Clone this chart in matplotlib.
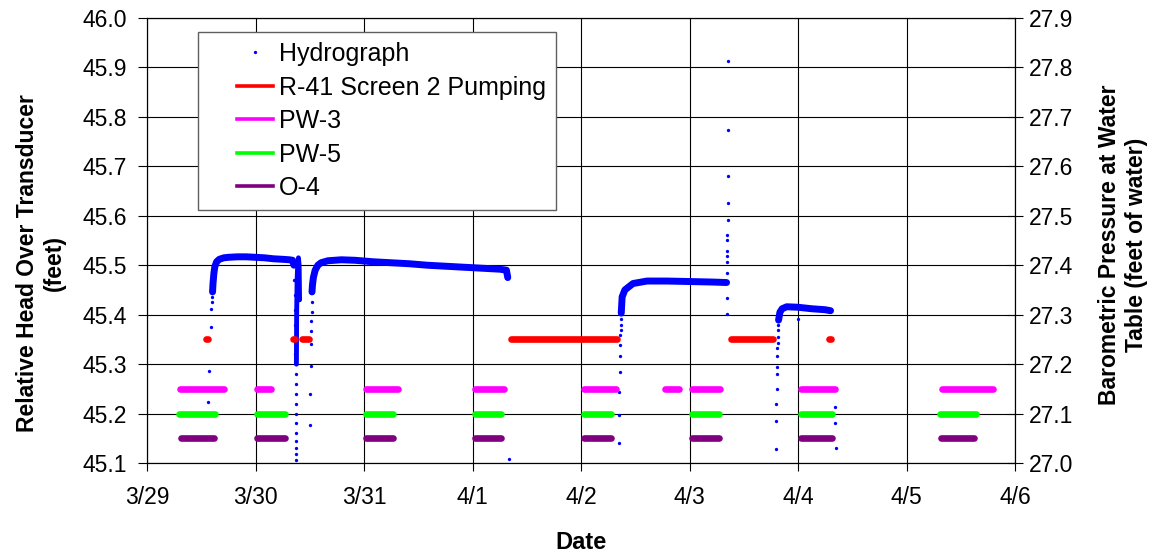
import matplotlib
matplotlib.use('Agg')
import matplotlib.pyplot as plt
from matplotlib.lines import Line2D
from matplotlib.legend_handler import HandlerLine2D

plt.rcParams['font.family'] = ['Liberation Sans', 'DejaVu Sans']

# x axis: hours since 3/29 00:00
day_labels = ['3/29', '3/30', '3/31', '4/1', '4/2', '4/3', '4/4', '4/5', '4/6']

# hydrograph readings (hours, head in feet); tails are sparse, flats are dense
rec1_t = [13.6, 13.7, 14.1, 14.2, 14.3, 14.4]
rec1_h = [45.224, 45.287, 45.376, 45.411, 45.426, 45.436]
flat1_t = [14.5, 14.6, 14.8, 15.0, 15.4, 16, 17, 18, 20, 22, 24, 26, 28, 30, 31.5, 32.2, 32.5]
flat1_h = [45.446, 45.463, 45.484, 45.497, 45.507, 45.512, 45.515, 45.516, 45.517, 45.517,
           45.516, 45.515, 45.513, 45.512, 45.511, 45.51, 45.50]

drop1_t = [32.6, 32.65, 32.7, 32.74, 32.78, 32.82, 32.85, 32.88, 32.9, 32.92, 32.94, 32.96,
           32.97, 32.98, 32.99, 33.0, 33.01, 33.02]
drop1_h = [45.47, 45.44, 45.41, 45.38, 45.35, 45.32, 45.30, 45.28, 45.26, 45.24, 45.22, 45.20,
           45.18, 45.16, 45.145, 45.13, 45.118, 45.106]
hook1_t = [33.05, 33.1, 33.2, 33.35, 33.5, 33.65, 33.75]
hook1_h = [45.30, 45.40, 45.47, 45.505, 45.515, 45.50, 45.43]

rec2_t = [36.1, 36.15, 36.2, 36.25, 36.3, 36.35, 36.4, 36.45]
rec2_h = [45.177, 45.24, 45.296, 45.341, 45.366, 45.388, 45.406, 45.426]
flat2_t = [36.5, 36.6, 36.8, 37.2, 37.8, 38.5, 40, 43, 46, 50, 54, 58, 62, 66, 70, 74, 78, 79.5, 79.8]
flat2_h = [45.446, 45.46, 45.475, 45.49, 45.50, 45.505, 45.509, 45.511, 45.510, 45.507, 45.505,
           45.503, 45.500, 45.498, 45.496, 45.494, 45.492, 45.49, 45.475]
lone2_t = [80.0]
lone2_h = [45.108]

rec3_t = [104.4, 104.45, 104.5, 104.55, 104.6, 104.65, 104.7, 104.75, 104.8, 104.85]
rec3_h = [45.140, 45.197, 45.244, 45.285, 45.316, 45.339, 45.359, 45.370, 45.380, 45.391]
flat3_t = [104.9, 105.1, 105.7, 107.5, 110.6, 115, 120, 125, 128.2]
flat3_h = [45.403, 45.436, 45.45, 45.463, 45.468, 45.468, 45.467, 45.466, 45.465]
spike3_t = [128.3, 128.32, 128.34, 128.36, 128.38, 128.4, 128.42, 128.44, 128.46, 128.48, 128.5,
            128.3, 128.3]
spike3_h = [45.485, 45.507, 45.519, 45.529, 45.551, 45.561, 45.591, 45.625, 45.680, 45.773, 45.914,
            45.434, 45.401]

rec4_t = [139.1, 139.15, 139.2, 139.25, 139.3, 139.35, 139.4, 139.45, 139.5, 139.55, 139.6, 139.65]
rec4_h = [45.128, 45.185, 45.22, 45.25, 45.279, 45.295, 45.316, 45.332, 45.343, 45.355, 45.369, 45.379]
flat4_t = [139.7, 140.0, 140.5, 141.5, 144, 147, 150, 151.2]
flat4_h = [45.389, 45.405, 45.412, 45.416, 45.415, 45.412, 45.41, 45.408]
drop4_t = [144.0, 152.2, 152.25, 152.3]
drop4_h = [45.392, 45.214, 45.18, 45.130]

# pumping periods (start, end in hours) and the level each is plotted at
r41_on = [13.1, 32.3, 34.3, 80.5, 129.2, 150.8]
r41_off = [13.5, 32.7, 35.8, 104.0, 138.5, 151.3]
r41_level = 45.35
pw3_on = [7.3, 24.3, 48.4, 72.6, 96.7, 114.6, 120.6, 144.7, 175.9]
pw3_off = [17.0, 27.4, 55.5, 79.0, 103.7, 117.7, 126.7, 152.2, 187.1]
pw3_level = 45.25
pw5_on = [7.1, 24.3, 48.4, 72.6, 96.7, 120.6, 144.7, 175.4]
pw5_off = [15.0, 30.5, 54.4, 78.3, 102.6, 126.5, 151.5, 183.4]
pw5_level = 45.20
o4_on = [7.5, 24.3, 48.4, 72.6, 96.7, 120.6, 144.7, 175.6]
o4_off = [14.8, 30.5, 54.4, 78.3, 102.6, 126.5, 151.5, 182.9]
o4_level = 45.15

BLUE = '#0000ff'
RED = '#ff0000'
MAGENTA = '#ff00ff'
GREEN = '#00ff00'
PURPLE = '#800080'
FS = 16.5

fig = plt.figure(figsize=(11.58, 5.55), dpi=100)
ax = fig.add_axes([147 / 1158, 1 - 463 / 555, 868 / 1158, 445 / 555])

def dots(t, h):
    ax.plot(t, h, ls='none', marker='o', ms=2.4, mec='none', color=BLUE, zorder=3)

def band(t, h, lw=5):
    ax.plot(t, h, color=BLUE, lw=lw, solid_capstyle='round', solid_joinstyle='round', zorder=3)

dots(rec1_t, rec1_h)
band(flat1_t, flat1_h)
dots(drop1_t, drop1_h)
band(hook1_t, hook1_h, lw=3.5)
dots(rec2_t, rec2_h)
band(flat2_t, flat2_h)
dots(lone2_t, lone2_h)
dots(rec3_t, rec3_h)
band(flat3_t, flat3_h)
dots(spike3_t, spike3_h)
dots(rec4_t, rec4_h)
band(flat4_t, flat4_h)
dots(drop4_t, drop4_h)

for on, off, level, col in [(r41_on, r41_off, r41_level, RED),
                            (pw3_on, pw3_off, pw3_level, MAGENTA),
                            (pw5_on, pw5_off, pw5_level, GREEN),
                            (o4_on, o4_off, o4_level, PURPLE)]:
    lc = ax.hlines([level] * len(on), on, off, colors=col, lw=4.8, zorder=4)
    lc.set_capstyle('round')

ax.set_xlim(0, 24 * (len(day_labels) - 1))
ax.set_xticks([24 * i for i in range(len(day_labels))])
ax.set_xticklabels(day_labels)
ax.set_ylim(45.1, 46.0)
ax.set_yticks([45.1 + 0.1 * i for i in range(10)])
ax.set_yticklabels([f'{45.1 + 0.1 * i:.1f}' for i in range(10)])
ax.grid(True, color='black', lw=0.8)
ax.set_axisbelow(True)
ax.tick_params(axis='y', direction='out', length=6.5, width=0.8, pad=8, labelsize=FS)
ax.tick_params(axis='x', direction='out', length=5.5, width=0.8, pad=11, labelsize=FS)
for s in ax.spines.values():
    s.set_linewidth(0.8)

ax2 = ax.twinx()
ax2.set_ylim(27.0, 27.9)
ax2.set_yticks([27.0 + 0.1 * i for i in range(10)])
ax2.set_yticklabels([f'{27.0 + 0.1 * i:.1f}' for i in range(10)])
ax2.tick_params(axis='y', direction='inout', length=12, width=0.8, pad=4, labelsize=FS)
for s in ax2.spines.values():
    s.set_linewidth(0.8)

ax.set_xlabel('Date', fontsize=FS + 0.5, fontweight='bold', labelpad=16)
fig.text(41 / 1158, 1 - 263 / 555, 'Relative Head Over Transducer\n(feet)', rotation=90,
         ha='center', va='center', fontsize=FS, fontweight='bold', multialignment='center')
fig.text(1123 / 1158, 1 - 245 / 555, 'Barometric Pressure at Water\nTable (feet of water)',
         rotation=90, ha='center', va='center', fontsize=FS, fontweight='bold',
         multialignment='center')

handles = [
    Line2D([], [], ls='none', marker='o', ms=2.4, mec='none', color=BLUE),
    Line2D([], [], color=RED, lw=2.6),
    Line2D([], [], color=MAGENTA, lw=2.6),
    Line2D([], [], color=GREEN, lw=2.6),
    Line2D([], [], color=PURPLE, lw=2.6),
]
labels = ['Hydrograph', 'R-41 Screen 2 Pumping', 'PW-3', 'PW-5', 'O-4']
leg = ax2.legend(handles, labels, loc='upper left', bbox_to_anchor=(51 / 868, 1 - 14 / 445),
                 borderaxespad=0, fontsize=18, frameon=True, fancybox=False, framealpha=1,
                 edgecolor='#606060', borderpad=0.4, labelspacing=0.38, handlelength=2.6,
                 handletextpad=0.24, numpoints=1,
                 handler_map={Line2D: HandlerLine2D(xpad=1.16)})
leg.get_frame().set_linewidth(1)

fig.savefig('out.png', dpi=100)
